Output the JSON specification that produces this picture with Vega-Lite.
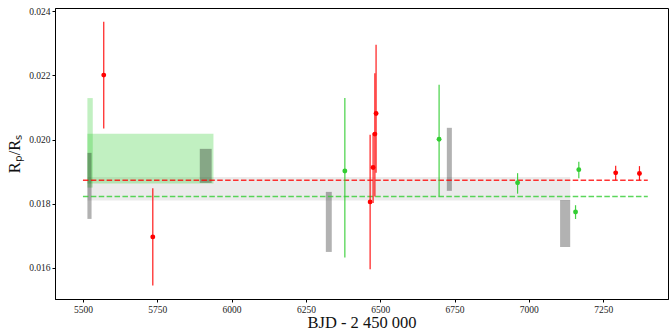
{
  "$schema": "https://vega.github.io/schema/vega-lite/v6.json",
  "width": 613,
  "height": 291,
  "autosize": {"type": "none"},
  "padding": {"left": 55, "top": 8, "right": 4, "bottom": 33},
  "background": "white",
  "config": {
    "view": {"stroke": "black", "strokeWidth": 1},
    "axis": {"grid": false, "labelFont": "Liberation Serif", "labelFontSize": 9.5, "labelColor": "#222", "titleFont": "Liberation Serif", "titleFontSize": 16.5, "titleFontWeight": "normal", "titleColor": "#111", "tickColor": "black", "tickSize": 3, "domainColor": "black", "labelPadding": 2}
  },
  "datasets": {
    "band": [{"x": 5515, "x2": 7139, "y": 0.018094, "y2": 0.018834}],
    "greenbox": [
      {"x": 5515, "x2": 5939, "y": 0.018625, "y2": 0.020178},
      {"x": 5515, "x2": 5533, "y": 0.0185, "y2": 0.021294}
    ],
    "greybox": [
      {"x": 5515, "x2": 5529, "y": 0.017522, "y2": 0.019584},
      {"x": 5893, "x2": 5933, "y": 0.018647, "y2": 0.019709},
      {"x": 6317, "x2": 6337, "y": 0.016491, "y2": 0.018366},
      {"x": 6724, "x2": 6741, "y": 0.018397, "y2": 0.020366},
      {"x": 7105, "x2": 7139, "y": 0.016647, "y2": 0.018116}
    ],
    "levels": [
      {"series": "red", "x": 5500, "x2": 7400, "y": 0.018731},
      {"series": "green", "x": 5500, "x2": 7400, "y": 0.018219}
    ],
    "points": [
      {"series": "red", "x": 5570, "y": 0.022012, "lo": 0.020344, "hi": 0.02368},
      {"series": "red", "x": 5735, "y": 0.01696, "lo": 0.01544, "hi": 0.01848},
      {"series": "red", "x": 6466, "y": 0.018053, "lo": 0.01595, "hi": 0.020147},
      {"series": "red", "x": 6476, "y": 0.019125, "lo": 0.01802, "hi": 0.0202},
      {"series": "red", "x": 6482, "y": 0.020169, "lo": 0.01822, "hi": 0.02207},
      {"series": "red", "x": 6486, "y": 0.020813, "lo": 0.01896, "hi": 0.02296},
      {"series": "red", "x": 7292, "y": 0.01896, "lo": 0.01874, "hi": 0.01918},
      {"series": "red", "x": 7372, "y": 0.01894, "lo": 0.01873, "hi": 0.01917},
      {"series": "green", "x": 6381, "y": 0.01902, "lo": 0.01632, "hi": 0.0213},
      {"series": "green", "x": 6698, "y": 0.02001, "lo": 0.01822, "hi": 0.02171},
      {"series": "green", "x": 6962, "y": 0.01865, "lo": 0.01831, "hi": 0.01895},
      {"series": "green", "x": 7168, "y": 0.01906, "lo": 0.01879, "hi": 0.01931},
      {"series": "green", "x": 7157, "y": 0.01774, "lo": 0.01752, "hi": 0.01795}
    ]
  },
  "layer": [
    {
      "data": {"name": "band"},
      "mark": {"type": "rect", "fill": "#000000", "opacity": 0.08},
      "encoding": {
        "x": {"field": "x", "type": "quantitative", "scale": {"domain": [5406, 7468], "nice": false, "zero": false}, "axis": {"values": [5500, 5750, 6000, 6250, 6500, 6750, 7000, 7250], "format": "d", "title": "BJD - 2 450 000", "titleY": 28.5, "titleBaseline": "alphabetic"}},
        "x2": {"field": "x2"},
        "y": {"field": "y", "type": "quantitative", "scale": {"domain": [0.015022, 0.024106], "nice": false, "zero": false}, "axis": {"values": [0.016, 0.018, 0.02, 0.022, 0.024], "format": ".3f", "title": "Rₚ/Rₛ", "titlePadding": 6}},
        "y2": {"field": "y2"}
      }
    },
    {
      "data": {"name": "greenbox"},
      "mark": {"type": "rect", "fill": "#32cd32", "opacity": 0.3},
      "encoding": {
        "x": {"field": "x", "type": "quantitative"},
        "x2": {"field": "x2"},
        "y": {"field": "y", "type": "quantitative"},
        "y2": {"field": "y2"}
      }
    },
    {
      "data": {"name": "greybox"},
      "mark": {"type": "rect", "fill": "#000000", "opacity": 0.3},
      "encoding": {
        "x": {"field": "x", "type": "quantitative"},
        "x2": {"field": "x2"},
        "y": {"field": "y", "type": "quantitative"},
        "y2": {"field": "y2"}
      }
    },
    {
      "data": {"name": "levels"},
      "mark": {"type": "rule", "strokeWidth": 1.5, "strokeDash": [5.5, 2.4], "opacity": 0.8},
      "encoding": {
        "x": {"field": "x", "type": "quantitative"},
        "x2": {"field": "x2"},
        "y": {"field": "y", "type": "quantitative"},
        "color": {"field": "series", "type": "nominal", "scale": {"domain": ["red", "green"], "range": ["#ff0000", "#32cd32"]}, "legend": null}
      }
    },
    {
      "data": {"name": "points"},
      "mark": {"type": "rule", "strokeWidth": 1.2, "opacity": 0.9},
      "encoding": {
        "x": {"field": "x", "type": "quantitative"},
        "y": {"field": "lo", "type": "quantitative"},
        "y2": {"field": "hi"},
        "color": {"field": "series", "type": "nominal", "legend": null}
      }
    },
    {
      "data": {"name": "points"},
      "mark": {"type": "circle", "size": 24, "opacity": 1},
      "encoding": {
        "x": {"field": "x", "type": "quantitative"},
        "y": {"field": "y", "type": "quantitative"},
        "color": {"field": "series", "type": "nominal", "legend": null}
      }
    }
  ]
}
